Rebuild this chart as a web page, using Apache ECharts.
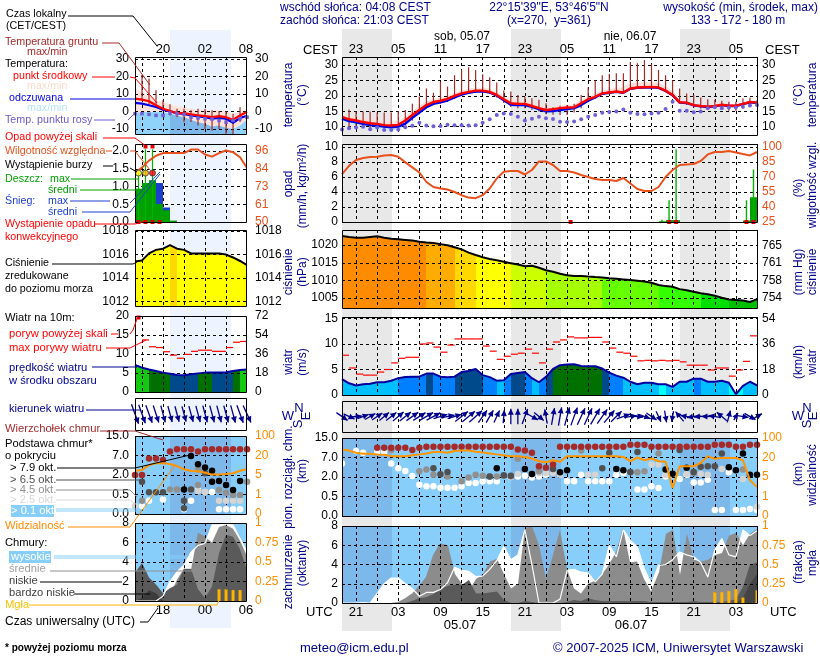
<!DOCTYPE html>
<html>
<head>
<meta charset="utf-8">
<title>meteogram</title>
<script src="https://cdn.jsdelivr.net/npm/echarts@6/dist/echarts.min.js"></script>
<style>
  html, body { margin: 0; padding: 0; background: #fff; }
  #chart { width: 820px; height: 660px; }
</style>
</head>
<body>
<div id="chart"></div>
<script>
// main panels: x = hours after 19 UTC 04.07, left panels: x = hours after 14 UTC 04.07
const nightHours = [[0.05, 7.13], [24.05, 31.13], [48.05, 55.13]];
const leftNight = [4.93, 13.75];

const temperature = [13.2,12.4,12,11.5,11.1,10.9,10.5,10.4,10.6,12,13.8,15.4,17,18,18.4,19,20,20.8,21.3,21.7,21.7,21.3,20.3,18.9,17.6,17.4,17.4,16.7,16,15.4,15.7,16,16.2,16.3,17.6,18.9,19.7,20.8,21.1,21.4,21.1,22.4,22.7,22.8,22.9,22.7,21.7,20.3,17.9,17.8,17,16.7,16.5,16.7,17.1,16.8,16.8,17.4,18,17.8];
const tempFelt = [12.6,11.8,11.4,10.9,10.5,10.3,10,9.8,10,11,12.9,14.6,16.3,17.4,17.9,18.5,19.5,20.4,21,21.4,21.5,21.1,20.1,18.6,17.1,17,17,16.4,15.7,15,15.1,15.4,15.7,16,17,18.4,19.5,20.7,21,21.3,21,22.3,22.6,22.7,22.8,22.6,21.6,20.2,17.8,17.7,16.9,16.6,16.4,16.6,17,16.7,16.7,17.3,17.9,17.7];
const tempHigh = [14.2,13.6,13.3,13,12.5,12.2,11.9,11.7,11.9,13.2,15,16.6,18.3,19,19.4,20,21,21.8,22.3,22.7,22.7,22.3,21.2,19.8,18.7,18.4,18.4,17.7,17,16.3,16.5,16.8,17,17.3,18.6,19.8,20.7,21.8,22.2,22.6,22.8,24,24.3,24.4,24.4,24.2,23,21.5,18.7,18.3,17.4,17,16.8,17,17.4,17.1,17.1,17.7,18.4,18.2];
const tempLow = [11.8,11,10.5,10,9.5,9.2,8.9,8.7,8.9,10,12.2,14,16,17.1,17.7,18.3,19.3,20.2,20.8,21.2,21.3,21,19.9,18.3,16.6,16.3,16.2,15.5,14.8,14,14,14.2,14.6,15.2,16.4,18,19.3,20.5,20.8,21.1,20.8,22.1,22.4,22.6,22.7,22.4,21.4,20,17.6,17.4,16.6,16.3,16.2,16.4,16.8,16.5,16.5,17.1,17.7,17.5];
const dewPoint = [9.1,9.5,9.7,10,9.2,9.7,8.9,8.9,9.1,9.8,10.3,11.3,10.4,10.1,10.2,10.6,10.5,10.5,10.4,10.5,11.3,12.4,13.8,14.3,14.1,13.2,12,12.6,13.2,12.7,12.5,11.6,11.5,11.7,12.4,13.2,13.8,14.5,14.8,14.9,15.6,14.5,14.1,14,14.3,14.5,15.7,18.1,15.2,15.2,14.7,14.9,16,16.3,16,16.2,16.2,16.5,16.9,17];
const groundMax = [null,15.6,14.9,14.9,14.9,14.6,14.6,14.6,15,15.4,17.4,19.8,22.4,21,24.6,23,26.7,28.4,29.3,28.4,27,26,24.3,21.7,21.4,20.3,19.7,19.2,18.7,17.6,16.3,16.8,17,17.4,20.3,22.8,25,26.7,27.1,27.3,27.3,31,30.6,31.6,30.3,28.4,26.7,25,22.4,20.8,20.3,19.5,18.9,18.7,18.4,18.1,18.1,19.2,19.4,18.6];
const groundMin = [null,9.6,9.6,9.6,9.5,9.5,9.4,9.4,9.5,10.4,12,14,16,17,17.5,18,19,20,20.7,21,21,20.7,19.5,17.7,16.4,16,16,15.5,14.9,14,13.9,13.8,13.8,14.6,16,18,19,20.5,20.8,21,20.8,22.1,22.4,22.5,22.6,22.3,21.3,19.8,17.5,17,16.2,15.9,15.7,15.9,15.7,15.2,15.2,15.8,16.6,16.8];

const tempL = [7.3,6.7,5.8,3.5,1.5,0.2,-1,-1,-1.7,-2.3,-2.7,-3.3,-2.7,-3.3,-4.8,-2.3,-0.2];
const tempFeltL = [4.8,4.4,3.5,2.5,1,0,-1,-1.5,-2.3,-2.9,-3.3,-4.2,-3.7,-4.2,-6.5,-3.8,-2.5];
const tempHighL = [13,11,9,6,5.4,4,2.9,2.5,1.5,1,0.6,0.6,0.6,-0.4,-1.3,-0.4,1.5];
const tempSplitL = [-1,-0.4,-0.4,-0.4,-0.4,-1.3,-2.3,-3.3,-4.8,-6.2,-7,-8.6,-8,-9.4,-10,-8,-4.5];
const dewPointL = [-1.3,-1.3,-1.7,-2.3,-2.3,-1,-1.3,-1.7,-3.3,-3.8,-4.2,-4.4,-5.2,-6.2,-5.2,-4.2,-3.3];
const groundMaxL = [null,20.8,18.8,12,6.3,4,1.5,1.5,0.6,1.5,1.5,0.6,0.2,0,-1.3,2.5,null];
const groundMinL = [null,6,4,2,0,-2.3,-3.3,-6,-6,-8,-10,-11,-10,-13,-13,-6,null];

const humidity = [72.9,81.2,87,89,90,90.3,91.6,92,90.3,84.6,79.6,74.5,65,60,58.5,57.5,55,51.8,49.4,48.8,51.8,58.5,68.5,75.2,76,76,72.5,77,85.6,85.6,82,76,76,74.5,72,70,68,67,67,66,69,63.5,58,56,56,60,70,77,82,82.6,83,86,92.6,95,95,96,94.6,93,91.6,95];
const rainMean = [[45,0.1],[46,0.25],[47,0.25],[57,0.2],[58,3.3]];
const rainMax = [[45,0.3],[46,2.9],[47,9.7],[57,2.9],[58,7]];
const convective = [[32,0],[46,0],[47,0],[57,0],[58,0]];

const humidityL = [82,85.3,89.8,93,94.7,94.7,94.7,94.7,97,97,93.8,92.4,94.7,96.4,95.3,92,85];
const rainMeanL = [[0,0.94],[1,1.1],[2,1.18],[3,0.51],[4,0.33],[5,0.04]];
const rainMaxL = [[0,1.4],[1,2.05],[2,2.05]];
const snowMeanL = [[3,1.1],[4,0.41]];
const convectiveL = [[0,0],[1,0],[2,0],[3,0]];
const overScaleL = [[1,2.13],[2,2.13]];
const stormL = [[0,1.38,0],[1,1.38,1],[2,1.38,2]];

const pressure = [1022.6,1022.3,1022.1,1022.1,1022.3,1022.5,1022.1,1021.8,1021.7,1021.5,1021.3,1021,1020.75,1020.6,1020.3,1020,1019.4,1018.8,1017.9,1017.2,1016.6,1016.1,1015.7,1015.3,1014.9,1014.5,1014.05,1014.15,1013.6,1012.9,1012.45,1011.9,1011.5,1011.3,1011.3,1011.1,1010.95,1010.85,1010.65,1010.5,1010.3,1010.1,1009.9,1009.7,1009.35,1008.7,1008.4,1008.2,1007.55,1007.25,1006.8,1006.4,1006.1,1005.65,1005.1,1004.6,1004.5,1004.3,1003.9,1004.7];
const pressureClass = [0,0,0,0,0,0,0,0,0,0,0,0,1,1,1,1,2,2,2,3,3,3,3,3,4,4,4,4,4,5,5,5,5,5,5,5,5,6,6,6,6,6,6,6,6,7,7,7,7,7,7,8,8,8,8,9,9,9,9,9];
const pressureL = [1015.4,1015.5,1016.1,1016.4,1016.5,1016.8,1016.5,1016.4,1016.1,1016.1,1016.1,1016.1,1016.1,1016,1015.75,1015.45,1015.1];
const pressureClassL = [3,3,3,3,3,2,3,3,3,3,3,3,3,3,3,3,3];

const windSpeed = [3.1,2.3,1.85,2.1,2.2,2.5,2.5,2.8,3.3,3.55,3.6,3.6,4.2,4.2,3.6,3.5,3.6,4.5,4.7,5.1,3.9,3.5,2.8,2.9,4.1,4.3,4.5,3.3,2.5,3.55,5.1,5.85,6,6.05,5.7,5.65,5.65,5.2,4.4,3.8,3.4,2.6,2.1,2.4,2.4,2.1,2.1,1.6,2.6,2.6,3.2,3.2,2.6,2.6,2.8,2.4,0.15,1.8,2.6,1.9];
const windClass = [1,1,1,1,1,1,1,1,2,2,2,2,3,2,2,2,3,3,3,3,2,2,1,2,3,3,2,1,2,3,4,4,4,4,4,4,4,3,2,2,1,1,1,1,1,0,1,1,1,1,2,1,1,1,1,0,0,1,1,1];
const gust = [7.8,5.3,4.1,3.9,3.9,4.5,5,6.3,7.2,7.4,7.4,10,10.2,9.4,8.4,9.8,11,11,11,11,9.6,8.6,7,7.6,8,8.2,9,8.2,6.3,9,10.4,10.8,11.4,11.2,11.2,11.3,11.3,10.4,9.2,8.4,8.2,7.6,6.7,6.8,6.7,6.8,6.7,6.8,6.5,5.85,5.85,5.85,4.9,5.3,5.3,3.7,4.9,6.6,11.6];
const windDir = [125,115,85,70,60,55,50,52,50,52,55,58,60,62,72,78,72,52,50,48,35,30,25,5,0,0,20,120,130,350,10,10,15,20,25,25,30,35,40,45,70,80,95,110,125,155,170,190,320,280,260,265,270,280,310,15,30,100,120,60];

const windSpeedL = [7.1,6.4,5.9,5.5,5.1,4.8,4.5,4.4,4.65,4.9,5.1,5.1,5.1,5.2,5.5,5.8,5.9];
const windClassL = [5,5,4,4,4,3,3,3,3,4,4,3,3,3,4,5,5];
const gustL = [null,13.7,11.9,11.7,10.6,9.7,8.9,9.9,10.7,11,11,10.7,10.7,11.7,13.1,13.3];
const gustOverL = [[0.5,19.6]];
const windDirL = [160,160,160,162,165,165,165,165,165,165,165,165,165,165,165,160,155];

// cloud base and visibility are read in the panels' even scale steps (0..4)
const cloudBaseTicks = ['0.0','0.5','2.0','7.0','15.0'];
const visibilityTicks = ['0','1','5','20','100'];
const cloudTop = [null,null,null,null,null,3.5,3.5,3.5,3.5,3.5,3.38,3.5,3.55,3.55,3.55,3.55,3.55,3.55,3.55,3.55,3.55,3.55,3.55,3.55,3.55,3.41,3.36,3.24,2.55,2.47,2.64,3.55,3.55,3.55,3.55,3.55,3.55,3.55,3.55,3.55,3.55,3.66,3.66,3.66,3.55,3.55,3.55,3.55,3.55,3.55,3.55,3.55,3.55,3.66,3.66,3.66,3.55,3.55,3.66,3.66];
const base01 = [[0,2.69],[2,3.33],[3,3.24],[5,3.28],[6,3.28],[7,2.69],[8,2.45],[9,2.31],[10,2.05],[11,1.6],[12,1.52],[13,1.52],[14,1.45],[15,1.45],[16,1.45],[17,1.52],[18,1.69],[19,1.69],[20,1.78],[21,1.78],[22,1.78],[24,2],[25,2.03],[26,2.07],[27,1.98],[28,2.03],[29,2.12],[32,1.78],[33,1.78],[34,2.12],[35,1.78],[36,1.78],[37,1.78],[38,1.78],[39,2.12],[40,2.2],[42,1.36],[43,1.36],[44,1.52],[45,1.43],[46,2.03],[48,1.9],[49,2.12],[50,1.72],[51,1.72],[52,1.86],[53,0.31],[54,0.31],[55,2.24],[56,0.31],[57,0.31],[58,0.36],[59,0.31]];
const base25 = [[25,2.16],[28,2.2],[29,2.2],[30,2.2],[31,2.12],[35,2.12],[36,2.12],[43,2.29],[44,2.64],[45,2.64],[46,2.12],[49,2.16],[51,2.16],[52,2.12],[54,2.41],[57,1.9],[59,0.48]];
const base45 = [[7,3.38],[11,2.29],[12,2.38],[13,2.12],[15,2.03],[17,1.78],[18,1.98],[19,2.12],[20,2.07],[21,2.03],[22,2.03],[23,2.07],[24,2.03],[25,2.93],[27,2.16],[28,2.29],[34,3.36],[41,2.24],[42,2.24],[43,2.29],[45,3.21],[50,2.2],[57,2.38]];
const base65 = [[13,2.45],[14,2.14],[15,2.26],[21,2.03],[23,2.09],[24,2.07],[30,2.41],[37,2.45],[38,3.24],[41,2.26],[42,3.28],[48,3.38],[50,2.26],[51,2.52],[52,2.55],[53,2.55],[54,3.21]];
const base79 = [[22,2.45],[26,2.41],[27,2.16],[31,2.24],[32,2.34],[39,2.41],[40,2.34],[46,2.38],[47,2.17],[49,2.47],[55,2.5],[56,2.34],[57,3.21],[58,2.12],[59,2.12]];
const visibility = [3.41,3.36,3.24,3.19,3.19,3.16,3.14,3.07,3.07,3.07,3.12,3.16,3.21,3.28,3.28,3.24,3.33,3.36,3.36,3.29,3.26,3.21,3.16,3.12,3.07,3.07,3.03,2.95,2.81,2.76,2.86,2.78,3.07,3.07,3.07,3.07,3.07,3.07,3.07,3.07,3.03,2.81,3,2.86,2.95,2.81,2.78,1.43,2.55,2.55,2.55,2.72,3.07,2.93,2.98,2.98,2.98,2.86,1.83,1.48];

const cloudTopL = [2,2,2.85,2.85,2.77,3.2,3.32,3.32,3.32,3.2,3.32,3.32,3.32,3.32,3.32,3.32,3.32];
const base01L = [[1,0.41],[2,0.68],[4,0.75],[7,0.24],[8,0.68],[9,1.23],[10,1.13],[11,1.13],[12,0.24],[13,0.24],[14,0.24],[15,0.24]];
const base25L = [[0,0.41],[5,1.23],[9,1.18],[10,1.13],[12,0.68],[13,0.68],[14,0.68],[15,0.68]];
const base45L = [[1,0.68],[5,1.26],[6,1.26],[9,2.29],[9,1.49],[11,1.66],[12,1.23],[13,1.09],[14,0.97],[15,0.97],[16,1.66]];
const base65L = [[1,1.66],[2,1.11],[3,1.11],[4,1.11],[7,0.68],[7,0.29],[8,1.26],[10,2.09]];
const base79L = [[7,1.26],[8,2.97],[9,2.55],[10,2.38],[11,2.22],[11,1.66],[12,1.69],[13,1.49],[14,1.23],[15,1.69]];
const visibilityL = [2.22,2.26,2.51,2.6,2.6,2.56,2.46,2.29,2.21,2.19,2.12,2.02,2.02,2.05,2.09,2.22,2.29];

const cloudHigh = [0,0,0,0.05,0,1,2,2.6,2.6,2,1.5,0.7,1.1,1.1,1.4,2.1,3.7,3.4,3.3,2.75,2.8,3.5,4.4,5.9,4.5,5,7.6,4,0,0,0,0.4,3.4,3.5,3.2,3.1,2.2,3,6,4.8,7.6,6.5,5.8,3.5,2,3.9,4,4.5,5.3,5,4.8,4.2,2.7,5.5,6.7,5,4.8,7.6,7,7.5];
const cloudMid = [0,0,0,0,0,0,0,0,0.1,0.5,1,1.8,2.7,5,6.2,6,3,2,1.3,2.5,3,4.3,4.6,3,1.5,2,7.8,8,6,2.5,5,7.6,3.5,1.5,1,2,2.3,3,4,5.3,7.8,4.2,4.3,2.5,1.2,3.2,7.2,7.6,2.9,7.2,4.5,4.3,4.5,5,5.2,7,7.3,6,7.2,7.7];
const cloudLow = [0,0,0,0,0,0,0,0,0,0,0.2,0.5,0.6,0.9,1.4,1.8,1.9,1.9,2.4,1,1,1.1,1.2,0.3,0,0,0.2,0.1,0,0,0,0,0.1,0.3,0.2,0.5,0.3,0.2,0.2,0.2,0.2,0.2,0.2,0.2,0.1,0.1,0.1,0.1,0.1,0.1,0.2,0.1,0.1,0.1,0.1,0.2,0.4,1.7,4,4.2];
const cloudVeryLow = [0,0,0,0,0,0,0,0,0,0,0,0,0,0,0,0,0,0,0,0,0,0,0,0,0,0,0,0,0,0,0,0,0,0,0,0,0,0,0,0,0,0,0,0,0,0,0,0,0,0,0,0,0,0,0,0,0,0.5,2,3];
const fog = [[53,0.14],[54,0.14],[55,0.155],[56,0.18],[57,0.07],[59,0.165]];

const cloudHighL = [0,0,0,0,0.5,2,3,3.7,5,5.7,5.9,7.8,7.8,7.9,7.8,6.4,5];
const cloudMidL = [0,0,0,0,0,0.5,2.2,3.3,3.2,7,6.6,6,7.6,7.8,7.4,6.2,4.6];
const cloudLowL = [2.9,3.9,2.4,1.7,0.8,1.3,1.7,3.3,3.3,1.2,0.3,1.5,4.9,6.8,6.6,5.3,3.2];
const cloudVeryLowL = [0,0.3,1.1,0.8,0,0,0,0,0,0,0,0,0,0,0,0,0];
const fogL = [[12,0.15],[13,0.15],[14,0.14],[15,0.14]];

// tick values
const tempTicks = [10,15,20,25,30];
const tempTicksL = [-10,0,10,20,30];
const rainTicks = [0,2,4,6,8,10];
const humidityTicks = [25,40,55,70,85,100];
const rainTicksL = [0,0.5,1,1.5,2];
const humidityTicksL = [50,61.5,73,84.5,96];
const pressureTicks = [1005,1010,1015,1020];
const pressureTicksL = [1012,1014,1016,1018];
const mmHgTicks = [753.8,757.6,761.3,765.06];
const windTicks = [0,5,10,15];
const kmhTicks = [0,18,36,54];
const windTicksL = [0,5,10,15,20];
const kmhTicksL = [0,18,36,54,72];
const stepTicks = [0,1,2,3,4];
const cloudTicks = [0,2,4,6,8];
const fogTicks = [0,0.25,0.5,0.75,1];

const pressureColors = ['#ff8c00','#ffac00','#ffd800','#ffff00','#ccff00','#a6ff00','#66ff00','#33ff00','#00e000','#00c000'];
const windColors = ['#00ffff','#00bfff','#0080ff','#004a8c','#007000','#14c814'];
const stormColors = ['#ffff00','#ffb000','#ff0000'];

const FONT = '"Liberation Sans", Arial, sans-serif';
const NAVY = '#00008b';
const ORANGE = '#ff8c00';
const SKY = '#87cefa';
const SKY_NIGHT = '#7cb9ea';

const grid = [], xAxis = [], yAxis = [], series = [], graphic = [];
const plain = v => String(v);

// one framed panel with its two vertical axes
function addPanel(p) {
  const g = grid.length;
  grid.push({ left: p.left, top: p.top, width: p.width, height: p.height, show: false });
  const dashed = { show: true, lineStyle: { color: '#000', width: 1, type: [3, 3] } };
  const xa = {
    gridIndex: g, type: 'value', min: 0, max: p.xMax, z: 3,
    position: p.xPos || 'bottom',
    axisLine: { show: false },
    axisTick: { show: false, customValues: p.xTicks },
    splitLine: dashed,
    axisLabel: { show: false }
  };
  if (p.xLabels) {
    xa.axisLabel = {
      show: true, customValues: p.xLabels, formatter: p.xFormat, margin: p.xMargin,
      color: '#000', fontFamily: FONT, fontSize: 13
    };
  }
  xAxis.push(xa);
  const yIndex = yAxis.length;
  yAxis.push({
    gridIndex: g, type: 'value', min: p.yMin, max: p.yMax, position: 'left', z: 3,
    axisLine: { show: false },
    axisTick: { show: false, customValues: p.yTicks || [] },
    splitLine: p.yTicks ? dashed : { show: false },
    axisLabel: {
      show: !!p.yTicks, customValues: p.yTicks, formatter: p.yFormat || plain, margin: p.yMargin,
      color: '#000', fontFamily: FONT, fontSize: 12
    }
  });
  yAxis.push({
    gridIndex: g, type: 'value', min: p.rMin, max: p.rMax, position: 'right', z: 3,
    axisLine: { show: false },
    axisTick: { show: false, customValues: p.rTicks || [] },
    splitLine: { show: false },
    axisLabel: {
      show: !!p.rTicks, customValues: p.rTicks, formatter: p.rFormat || plain, margin: p.rMargin,
      color: p.rColor || '#000', fontFamily: FONT, fontSize: 12
    }
  });
  graphic.push({
    type: 'rect', z: 20, silent: true,
    shape: { x: p.left + 0.5, y: p.top + 0.5, width: p.width, height: p.height },
    style: { fill: 'none', stroke: '#000', lineWidth: 1 }
  });
  return { g, y: yIndex, r: yIndex + 1 };
}

function customSeries(ax, useRight, z, rows, renderItem) {
  series.push({
    type: 'custom', xAxisIndex: ax.g, yAxisIndex: useRight ? ax.r : ax.y, z, clip: true,
    silent: true, animation: false, encode: { x: 0, y: 1 }, data: rows, renderItem
  });
}

// rect between two points, x on whole pixels so neighbours leave no seam
function rectShape(a, b) {
  const x0 = Math.round(a[0]), x1 = Math.round(b[0]);
  return { x: x0, y: a[1], width: x1 - x0, height: b[1] - a[1] };
}

// rectangle over an x range, whole panel height
function span(ax, x0, x1, yLo, yHi, color, z) {
  customSeries(ax, false, z, [[x0, yLo]], (params, api) => {
    return { type: 'rect', shape: rectShape(api.coord([x0, yHi]), api.coord([x1, yLo])), style: { fill: color } };
  });
}

// filled band between two arrays, one polygon per hour so the colour can change
function band(ax, low, high, colorOf, z) {
  customSeries(ax, false, z, high.map((v, i) => [i, v]), (params, api) => {
    const i = params.dataIndex;
    if (i >= high.length - 1) return;
    const pts = [[i, low[i]], [i + 1, low[i + 1]], [i + 1, high[i + 1]], [i, high[i]]].map(c => {
      const q = api.coord(c);
      return [Math.round(q[0]), q[1]];
    });
    return { type: 'polygon', shape: { points: pts }, style: { fill: colorOf(i) } };
  });
}

function line(ax, values, color, width, z, useRight) {
  series.push({
    type: 'line', xAxisIndex: ax.g, yAxisIndex: useRight ? ax.r : ax.y, z, silent: true, animation: false,
    symbol: 'none', connectNulls: false, clip: true,
    lineStyle: { color, width }, data: values.map((v, i) => [i, v])
  });
}

function dots(ax, rows, color, size, symbol, z) {
  series.push({
    type: 'scatter', xAxisIndex: ax.g, yAxisIndex: ax.y, z, silent: true, animation: false,
    symbol: symbol || 'circle', symbolSize: size, itemStyle: { color, opacity: 1 }, clip: false, data: rows
  });
}

function hourBars(ax, rows, color, z, useRight) {
  customSeries(ax, useRight, z, rows, (params, api) => {
    const h = api.value(0);
    return { type: 'rect', shape: rectShape(api.coord([h, api.value(1)]), api.coord([h + 1, 0])), style: { fill: color } };
  });
}

function stems(ax, rows, color, width, z, shift, useRight) {
  customSeries(ax, useRight, z, rows, (params, api) => {
    const h = api.value(0) + shift, a = api.coord([h, api.value(1)]), b = api.coord([h, 0]);
    return { type: 'line', shape: { x1: a[0], y1: a[1], x2: b[0], y2: b[1] }, style: { stroke: color, lineWidth: width } };
  });
}

function ranges(ax, lo, hi, color, z) {
  const rows = [];
  hi.forEach((v, i) => { if (v !== null) rows.push([i, lo[i], v]); });
  customSeries(ax, false, z, rows, (params, api) => {
    const a = api.coord([api.value(0), api.value(2)]), b = api.coord([api.value(0), api.value(1)]);
    return { type: 'line', shape: { x1: a[0], y1: a[1], x2: b[0], y2: b[1] }, style: { stroke: color, lineWidth: 1.2 } };
  });
}

function gustSteps(ax, values, z) {
  const rows = [];
  values.forEach((v, i) => { if (v !== null) rows.push([i, v]); });
  customSeries(ax, false, z, rows, (params, api) => {
    const h = api.value(0), a = api.coord([h, api.value(1)]), b = api.coord([h + 1, api.value(1)]);
    return { type: 'line', shape: { x1: a[0], y1: a[1], x2: b[0], y2: b[1] }, style: { stroke: '#ff0000', lineWidth: 1.2 } };
  });
}

// arrows are centred on the hour and point where the wind goes
function arrows(ax, dirs, speeds, z) {
  series.push({
    type: 'custom', xAxisIndex: ax.g, yAxisIndex: ax.y, z, clip: false, silent: true, animation: false,
    encode: { x: 0, y: 1 }, data: dirs.map((d, i) => [i, 0, d, speeds[i]]),
    renderItem: (params, api) => {
      const c = api.coord([api.value(0), 0]);
      const rad = api.value(2) * Math.PI / 180;
      const dx = Math.sin(rad), dy = -Math.cos(rad);
      const len = 8 + 1.8 * api.value(3);
      const tip = [c[0] + dx * len / 2, c[1] + dy * len / 2];
      const tail = [c[0] - dx * len / 2, c[1] - dy * len / 2];
      const neck = [tip[0] - dx * 6, tip[1] - dy * 6];
      return {
        type: 'group',
        children: [
          { type: 'line', shape: { x1: tail[0], y1: tail[1], x2: tip[0], y2: tip[1] }, style: { stroke: NAVY, lineWidth: 1.3 } },
          { type: 'polygon', shape: { points: [tip, [neck[0] - dy * 3, neck[1] + dx * 3], [neck[0] + dy * 3, neck[1] - dx * 3]] }, style: { fill: NAVY } }
        ]
      };
    }
  });
}

const pairs = values => values.map((v, i) => [i, v]).filter(r => r[1] !== null);
const pad2 = n => (n < 10 ? '0' : '') + n;

function addPanelBack(left, top, width, height, xMax, color, spans) {
  const g = grid.length;
  grid.push({ left, top, width, height, show: false });
  xAxis.push({ gridIndex: g, type: 'value', min: 0, max: xMax, show: false });
  const y = yAxis.length;
  yAxis.push({ gridIndex: g, type: 'value', min: 0, max: 1, show: false });
  const ax = { g, y, r: y };
  spans.forEach(s => span(ax, s[0], s[1], 0, 1, color, 0));
  return ax;
}

// --- main panels ---
const mainX = { left: 342, width: 415, xMax: 59, xTicks: [2,5,8,11,14,17,20,23,26,29,32,35,38,41,44,47,50,53,56,59] };
const cestLabels = [2,8,14,20,26,32,38,44,50,56];
addPanelBack(342, 29, 415, 602, 59, '#e8e8e8', nightHours);
addPanelBack(135, 30, 111, 598, 15.85, '#eef4ff', [leftNight]);

const tempA = addPanel({ ...mainX, top: 57, height: 78, xPos: 'top', xLabels: cestLabels, xMargin: 1,
  xFormat: v => pad2((19 + 2 + v) % 24),
  yMin: 7.3, yMax: 32.6, yTicks: tempTicks, yMargin: 4, rMin: 7.3, rMax: 32.6, rTicks: tempTicks, rMargin: 5 });
band(tempA, temperature, tempHigh, () => '#fde2dc', 2);
band(tempA, tempLow, tempFelt, () => '#c6e8fb', 2);
ranges(tempA, groundMin, groundMax, '#a52a2a', 5);
line(tempA, tempFelt, '#0000e6', 2.4, 6);
line(tempA, temperature, '#ff0000', 2.4, 7);
dots(tempA, pairs(dewPoint), '#7060d8', 4, 'circle', 8);

const rainA = addPanel({ ...mainX, top: 144, height: 78,
  yMin: 0, yMax: 10.4, yTicks: rainTicks, yMargin: 4, rMin: 25, rMax: 103, rTicks: humidityTicks, rMargin: 5, rColor: '#e8501c' });
hourBars(rainA, rainMean, '#00a000', 4);
stems(rainA, rainMax, '#00b400', 1.4, 5, 0.5);
line(rainA, humidity, '#e8501c', 2, 6, true);
dots(rainA, convective.map(r => [r[0] + 0.5, r[1]]), '#e00000', 4, 'rect', 7);

const presA = addPanel({ ...mainX, top: 230, height: 78,
  yMin: 1002.2, yMax: 1024.3, yTicks: pressureTicks, yMargin: 4, rMin: 751.7, rMax: 768.3, rTicks: mmHgTicks, rFormat: v => String(Math.round(v)), rMargin: 5 });
band(presA, pressure.map(() => 1002.2), pressure, i => pressureColors[pressureClass[i]], 2);
line(presA, pressure, '#000', 2, 6);

const windA = addPanel({ ...mainX, top: 317, height: 78,
  yMin: 0, yMax: 15.3, yTicks: windTicks, yMargin: 4, rMin: 0, rMax: 55.08, rTicks: kmhTicks, rMargin: 5 });
band(windA, windSpeed.map(() => 0), windSpeed, i => windColors[windClass[i]], 2);
line(windA, windSpeed, '#0000a0', 2, 6);
gustSteps(windA, gust, 6);

const dirA = addPanel({ ...mainX, top: 401, height: 31, yMin: -1, yMax: 1, rMin: -1, rMax: 1 });
arrows(dirA, windDir, windSpeed, 6);

const baseA = addPanel({ ...mainX, top: 438, height: 78,
  yMin: 0, yMax: 4, yTicks: stepTicks, yFormat: v => cloudBaseTicks[v], yMargin: 4,
  rMin: 0, rMax: 4, rTicks: stepTicks, rFormat: v => visibilityTicks[v], rMargin: 5, rColor: ORANGE });
span(baseA, 0, 59, 0, 4, SKY, 1);
nightHours.forEach(s => span(baseA, s[0], s[1], 0, 4, SKY_NIGHT, 1));
dots(baseA, base01, '#fff', 6.5, 'circle', 5);
dots(baseA, base25, '#d4d4d4', 6.5, 'circle', 5);
dots(baseA, base45, '#909090', 6.5, 'circle', 5);
dots(baseA, base65, '#505050', 6.5, 'circle', 5);
dots(baseA, base79, '#000', 6.5, 'circle', 5);
dots(baseA, pairs(cloudTop), '#a52a2a', 6.5, 'circle', 5);
line(baseA, visibility, '#ff9500', 2, 7);

const coverA = addPanel({ ...mainX, top: 526, height: 77,
  xLabels: cestLabels, xMargin: 3, xFormat: v => pad2((19 + v) % 24),
  yMin: 0, yMax: 8, yTicks: cloudTicks, yMargin: 4, rMin: 0, rMax: 1, rTicks: fogTicks, rMargin: 5, rColor: ORANGE });
span(coverA, 0, 59, 0, 8, SKY, 1);
nightHours.forEach(s => span(coverA, s[0], s[1], 0, 8, SKY_NIGHT, 1));
const zeros = cloudHigh.map(() => 0);
band(coverA, zeros, cloudHigh, () => '#fff', 2);
band(coverA, zeros, cloudMid, () => '#8c8c8c', 2);
band(coverA, zeros, cloudLow, () => '#5a5a5a', 2);
band(coverA, zeros, cloudVeryLow, () => '#444', 2);
line(coverA, cloudHigh, '#fff', 1.2, 5);
stems(coverA, fog, '#ffb400', 3, 6, 0, true);

// --- left panels ---
const leftX = { left: 135, width: 111, xMax: 15.85, xTicks: [1,4,7,10,13] };
const leftLabels = [4,10,15.85];

const tempB = addPanel({ ...leftX, top: 57, height: 77, xPos: 'top', xLabels: leftLabels, xMargin: 1,
  xFormat: v => pad2((Math.ceil(v) + 14 + 2) % 24),
  yMin: -12.9, yMax: 31, yTicks: tempTicksL, yMargin: 6, rMin: -12.9, rMax: 31, rTicks: tempTicksL, rMargin: 9 });
band(tempB, tempSplitL, tempHighL, () => '#fde2dc', 2);
band(tempB, tempSplitL.map(() => -12.9), tempSplitL, i => (i >= 5 && i < 14 ? '#7cb9ea' : '#8fd3fb'), 2);
ranges(tempB, groundMinL, groundMaxL, '#a52a2a', 5);
line(tempB, tempFeltL, '#0000e6', 2.2, 6);
line(tempB, tempL, '#ff0000', 2.2, 7);
dots(tempB, pairs(dewPointL), '#7060d8', 3.5, 'rect', 8);

const rainB = addPanel({ ...leftX, top: 144, height: 78,
  yMin: 0, yMax: 2.2, yTicks: rainTicksL, yFormat: v => v.toFixed(1), yMargin: 6,
  rMin: 50, rMax: 100.6, rTicks: humidityTicksL, rFormat: v => String(Math.floor(v)), rMargin: 9, rColor: '#e8501c' });
hourBars(rainB, snowMeanL, '#1c3fd0', 3);
hourBars(rainB, rainMeanL, '#00a000', 4);
stems(rainB, rainMaxL, '#00b400', 1.2, 5, 0.5);
line(rainB, humidityL, '#e8501c', 2, 6, true);
dots(rainB, convectiveL.map(r => [r[0] + 0.5, r[1]]), '#e00000', 4, 'rect', 7);
dots(rainB, overScaleL.map(r => [r[0] + 0.5, r[1]]), '#e00000', 4, 'rect', 7);
stormL.forEach(s => {
  series.push({
    type: 'scatter', xAxisIndex: rainB.g, yAxisIndex: rainB.y, z: 8, silent: true, animation: false, symbolSize: 6,
    itemStyle: { color: stormColors[s[2]], borderColor: '#333', borderWidth: 1 }, data: [[s[0] + 0.5, s[1]]]
  });
});

const presB = addPanel({ ...leftX, top: 230, height: 76,
  yMin: 1011.6, yMax: 1018.1, yTicks: pressureTicksL, yMargin: 6, rMin: 1011.6, rMax: 1018.1, rTicks: pressureTicksL, rMargin: 9 });
band(presB, pressureL.map(() => 1011.6), pressureL, i => pressureColors[pressureClassL[i]], 2);
line(presB, pressureL, '#000', 2, 6);

const windB = addPanel({ ...leftX, top: 316, height: 76,
  yMin: 0, yMax: 20, yTicks: windTicksL, yMargin: 6, rMin: 0, rMax: 72, rTicks: kmhTicksL, rMargin: 9 });
band(windB, windSpeedL.map(() => 0), windSpeedL, i => windColors[windClassL[i]], 2);
line(windB, windSpeedL, '#0000a0', 2, 6);
gustSteps(windB, gustL, 6);
dots(windB, gustOverL, '#e00000', 4, 'rect', 7);

const dirB = addPanel({ ...leftX, top: 398, height: 32, yMin: -1, yMax: 1, rMin: -1, rMax: 1 });
arrows(dirB, windDirL, windSpeedL, 6);

const baseB = addPanel({ ...leftX, top: 436, height: 78,
  yMin: 0, yMax: 4, yTicks: stepTicks, yFormat: v => cloudBaseTicks[v], yMargin: 6,
  rMin: 0, rMax: 4, rTicks: stepTicks, rFormat: v => visibilityTicks[v], rMargin: 9, rColor: ORANGE });
span(baseB, 0, 15.85, 0, 4, SKY, 1);
span(baseB, leftNight[0], leftNight[1], 0, 4, SKY_NIGHT, 1);
dots(baseB, base01L, '#fff', 6.5, 'circle', 5);
dots(baseB, base25L, '#d4d4d4', 6.5, 'circle', 5);
dots(baseB, base45L, '#909090', 6.5, 'circle', 5);
dots(baseB, base65L, '#505050', 6.5, 'circle', 5);
dots(baseB, base79L, '#000', 6.5, 'circle', 5);
dots(baseB, pairs(cloudTopL), '#a52a2a', 6.5, 'circle', 5);
line(baseB, visibilityL, '#ff9500', 2, 7);

const coverB = addPanel({ ...leftX, top: 523, height: 78,
  xLabels: leftLabels, xMargin: 3, xFormat: v => pad2((Math.ceil(v) + 14) % 24),
  yMin: 0, yMax: 8, yTicks: cloudTicks, yMargin: 6, rMin: 0, rMax: 1, rTicks: fogTicks, rMargin: 9, rColor: ORANGE });
span(coverB, 0, 15.85, 0, 8, SKY, 1);
span(coverB, leftNight[0], leftNight[1], 0, 8, SKY_NIGHT, 1);
const zerosL = cloudHighL.map(() => 0);
band(coverB, zerosL, cloudHighL, () => '#fff', 2);
band(coverB, zerosL, cloudMidL, () => '#8c8c8c', 2);
band(coverB, zerosL, cloudLowL, () => '#5a5a5a', 2);
band(coverB, zerosL, cloudVeryLowL, () => '#3c3c3c', 2);
line(coverB, cloudHighL, '#fff', 1.2, 5);
stems(coverB, fogL, '#ffb400', 3, 6, 0, true);

// --- texts ---
const RED = '#ff0000', BROWN = '#a52a2a', GREEN = '#00a000', BLUE = '#1c3fd0', SLATE = '#6a5acd', HUM = '#e8501c';
function text(s, x, y, fill, opts) {
  const o = opts || {};
  graphic.push({
    type: 'text', x, y, rotation: o.rot || 0, z: 30, silent: true,
    style: {
      text: s, fill, textAlign: o.align || 'left', textVerticalAlign: 'middle',
      font: (o.weight ? o.weight + ' ' : '') + (o.size || 12) + 'px ' + FONT
    }
  });
}
function leader(points, stroke) {
  graphic.push({ type: 'polyline', z: 25, silent: true, shape: { points }, style: { stroke, fill: 'none', lineWidth: 1 } });
}

const legendTexts = [
  ['Czas lokalny',6,14,'#000'],['(CET/CEST)',6,26,'#000'],
  ['Temperatura gruntu',5,42,BROWN],['max/min',27,52,BROWN],
  ['Temperatura:',5,64,'#000'],['punkt środkowy',13,76,RED],['max/min',27,86,'#fbdccf'],
  ['odczuwana',9,98,'#0000e6'],['max/min',27,108,'#b8e4fb'],['Temp. punktu rosy',5,120,SLATE],
  ['Opad powyżej skali',5,137,RED],['Wilgotność względna',5,151,HUM],['Wystąpienie burzy',5,165,'#000'],
  ['Deszcz:',5,179,GREEN],['max',50,179,GREEN],['średni',48,190,GREEN],
  ['Śnieg:',5,201,BLUE],['max',48,201,BLUE],['średni',48,212,BLUE],
  ['Wystąpienie opadu',5,224,RED],['konwekcyjnego',5,237,RED],
  ['Ciśnienie',5,263,'#000'],['zredukowane',5,276,'#000'],['do poziomu morza',5,289,'#000'],
  ['Wiatr na 10m:',5,318,'#000'],['poryw powyżej skali',9,334,RED],['max porywy wiatru',9,348,RED],
  ['prędkość wiatru',9,368,'#000090'],['w środku obszaru',9,381,'#000090'],['kierunek wiatru',9,409,'#000090'],
  ['Wierzchołek chmur',5,429,BROWN],['Podstawa chmur*',5,444,'#000'],['o pokryciu',5,456,'#000'],
  ['> 7.9 okt.',10,468,'#000'],['> 6.5 okt.',10,480,'#505050'],['> 4.5 okt.',10,490,'#909090'],['> 2.5 okt.',10,500,'#d8d8d8'],
  ['Widzialność',5,526,ORANGE],['Chmury:',5,543,'#000'],['średnie',9,569,'#a0a0a0'],['niskie',9,581,'#404040'],
  ['bardzo niskie',9,593,'#404040'],['Mgła',5,605,'#ffc000'],
];
graphic.push({ type: 'rect', z: 24, silent: true, shape: { x: 11, y: 505, width: 43, height: 12 }, style: { fill: SKY } });
graphic.push({ type: 'rect', z: 24, silent: true, shape: { x: 9, y: 551, width: 42, height: 12 }, style: { fill: SKY } });
legendTexts.forEach(t => text(t[0], t[1], t[2], t[3], { size: t[2] < 300 ? 10.7 : 11.2 }));
text('Czas uniwersalny (UTC)', 5, 622, '#000');
text('> 0.1 okt.', 11, 511, '#fff', { size: 11.2 });
text('wysokie', 11, 557, '#fff', { size: 11.2 });
text('* powyżej poziomu morza', 5, 648, '#000', { size: 10, weight: 'bold' });

// header and footer
text('wschód słońca: 04:08 CEST', 280, 8, NAVY);
text('zachód słońca: 21:03 CEST', 280, 21, NAVY);
text('22°15\'39"E, 53°46\'5"N', 549, 8, NAVY, { align: 'center' });
text('(x=270,  y=361)', 549, 21, NAVY, { align: 'center' });
text('wysokość (min, środek, max)', 818, 8, NAVY, { align: 'right' });
text('133 - 172 - 180 m', 738, 21, NAVY, { align: 'center' });
text('sob, 05.07', 462, 37, '#000', { align: 'center' });
text('nie, 06.07', 630, 37, '#000', { align: 'center' });
text('CEST', 303, 50, '#000', { size: 13 });
text('CEST', 765, 50, '#000', { size: 13 });
text('UTC', 306, 612, '#000', { size: 13 });
text('UTC', 770, 612, '#000', { size: 13 });
text('05.07', 460, 625, '#000', { align: 'center', size: 13 });
text('06.07', 631, 625, '#000', { align: 'center', size: 13 });
text('meteo@icm.edu.pl', 300, 648, NAVY, { size: 13 });
text('© 2007-2025 ICM, Uniwersytet Warszawski', 553, 648, NAVY, { size: 13 });

// rotated panel titles
const sideTexts = [
  ['temperatura',289,95],['(°C)',303,95],['opad',289,184],['(mm/h, kg/m²/h)',303,186],
  ['ciśnienie',289,272],['(hPa)',303,272],['wiatr',289,362],['(m/s)',303,362],
  ['pion. rozciągł. chm.',289,477],['(km)',303,471],['zachmurzenie',289,572],['(oktanty)',303,563],
  ['(°C)',799,95],['temperatura',813,95],['(%)',799,188],['wilgotność wzgl.',813,185],
  ['(mm Hg)',799,272],['ciśnienie',813,272],['(km/h)',799,362],['wiatr',813,362],
  ['(km)',799,474],['widzialność',813,475],['(frakcja)',799,562],['mgła',813,563],
];
sideTexts.forEach(t => text(t[0], t[1], t[2], '#00008b', { align: 'center', rot: Math.PI / 2 }));

// compass letters on both sides of the wind direction panel
const compass = [
  ['W',288,416,0],['N',299,408,0],['S',298,424,1],['E',306,416,1],
  ['W',798,416,0],['N',807,408,0],['S',807,424,1],['E',813,416,1],
];
compass.forEach(t => text(t[0], t[1], t[2], NAVY, { align: 'center', size: 13, rot: t[3] * Math.PI / 2 }));

// leader lines from the legend to the small panels
const leaders = [
  [[[68,16],[133,16],[157,46]],'#000'],
  [[[102,43],[119,43],[150,85]],BROWN],
  [[[92,77],[115,77]],RED],[[[130,77],[135,78],[157,103]],RED],
  [[[70,99],[135,99]],'#0000e6'],
  [[[94,120],[115,120]],SLATE],[[[128,120],[135,113]],SLATE],
  [[[103,138],[135,138],[146,146]],RED],
  [[[106,151],[112,151]],HUM],[[[130,151],[135,151],[150,170]],HUM],
  [[[103,166],[113,166]],'#000'],[[[130,168],[137,172]],'#000'],
  [[[71,179],[139,179]],GREEN],[[[80,190],[146,190]],GREEN],
  [[[70,201],[110,201]],BLUE],[[[130,203],[160,172]],BLUE],
  [[[82,212],[130,212],[160,174]],BLUE],
  [[[95,224],[135,224],[146,221]],RED],
  [[[52,264],[133,264],[137,262]],'#000'],
  [[[111,334],[118,334]],RED],[[[130,334],[133,330],[138,316]],RED],
  [[[106,348],[130,348],[146,340]],RED],
  [[[92,367],[137,367]],'#000090'],[[[86,410],[140,410]],'#000090'],
  [[[100,431],[135,431],[163,440]],BROWN],
  [[[57,468],[135,468],[190,455]],'#000'],
  [[[56,480],[143,480]],'#505050'],
  [[[56,490],[130,490],[137,497]],'#909090'],
  [[[56,500],[130,500],[137,505]],'#d8d8d8'],
  [[[56,509],[137,509]],SKY],[[[56,511],[137,511]],SKY],
  [[[68,527],[130,527],[175,465]],ORANGE],
  [[[54,556],[187,556]],SKY],[[[54,558],[187,558]],SKY],
  [[[50,571],[195,571]],'#909090'],
  [[[40,582],[122,582]],'#000'],[[[74,594],[150,594]],'#000'],
  [[[29,605],[217,605],[219,600]],'#ffb400'],
  [[[140,622],[148,622],[158,608]],'#000'],
];
leaders.forEach(l => leader(l[0], l[1]));

const chart = echarts.init(document.getElementById('chart'));
chart.setOption({ animation: false, backgroundColor: '#fff', grid, xAxis, yAxis, series, graphic });
</script>
</body>
</html>
